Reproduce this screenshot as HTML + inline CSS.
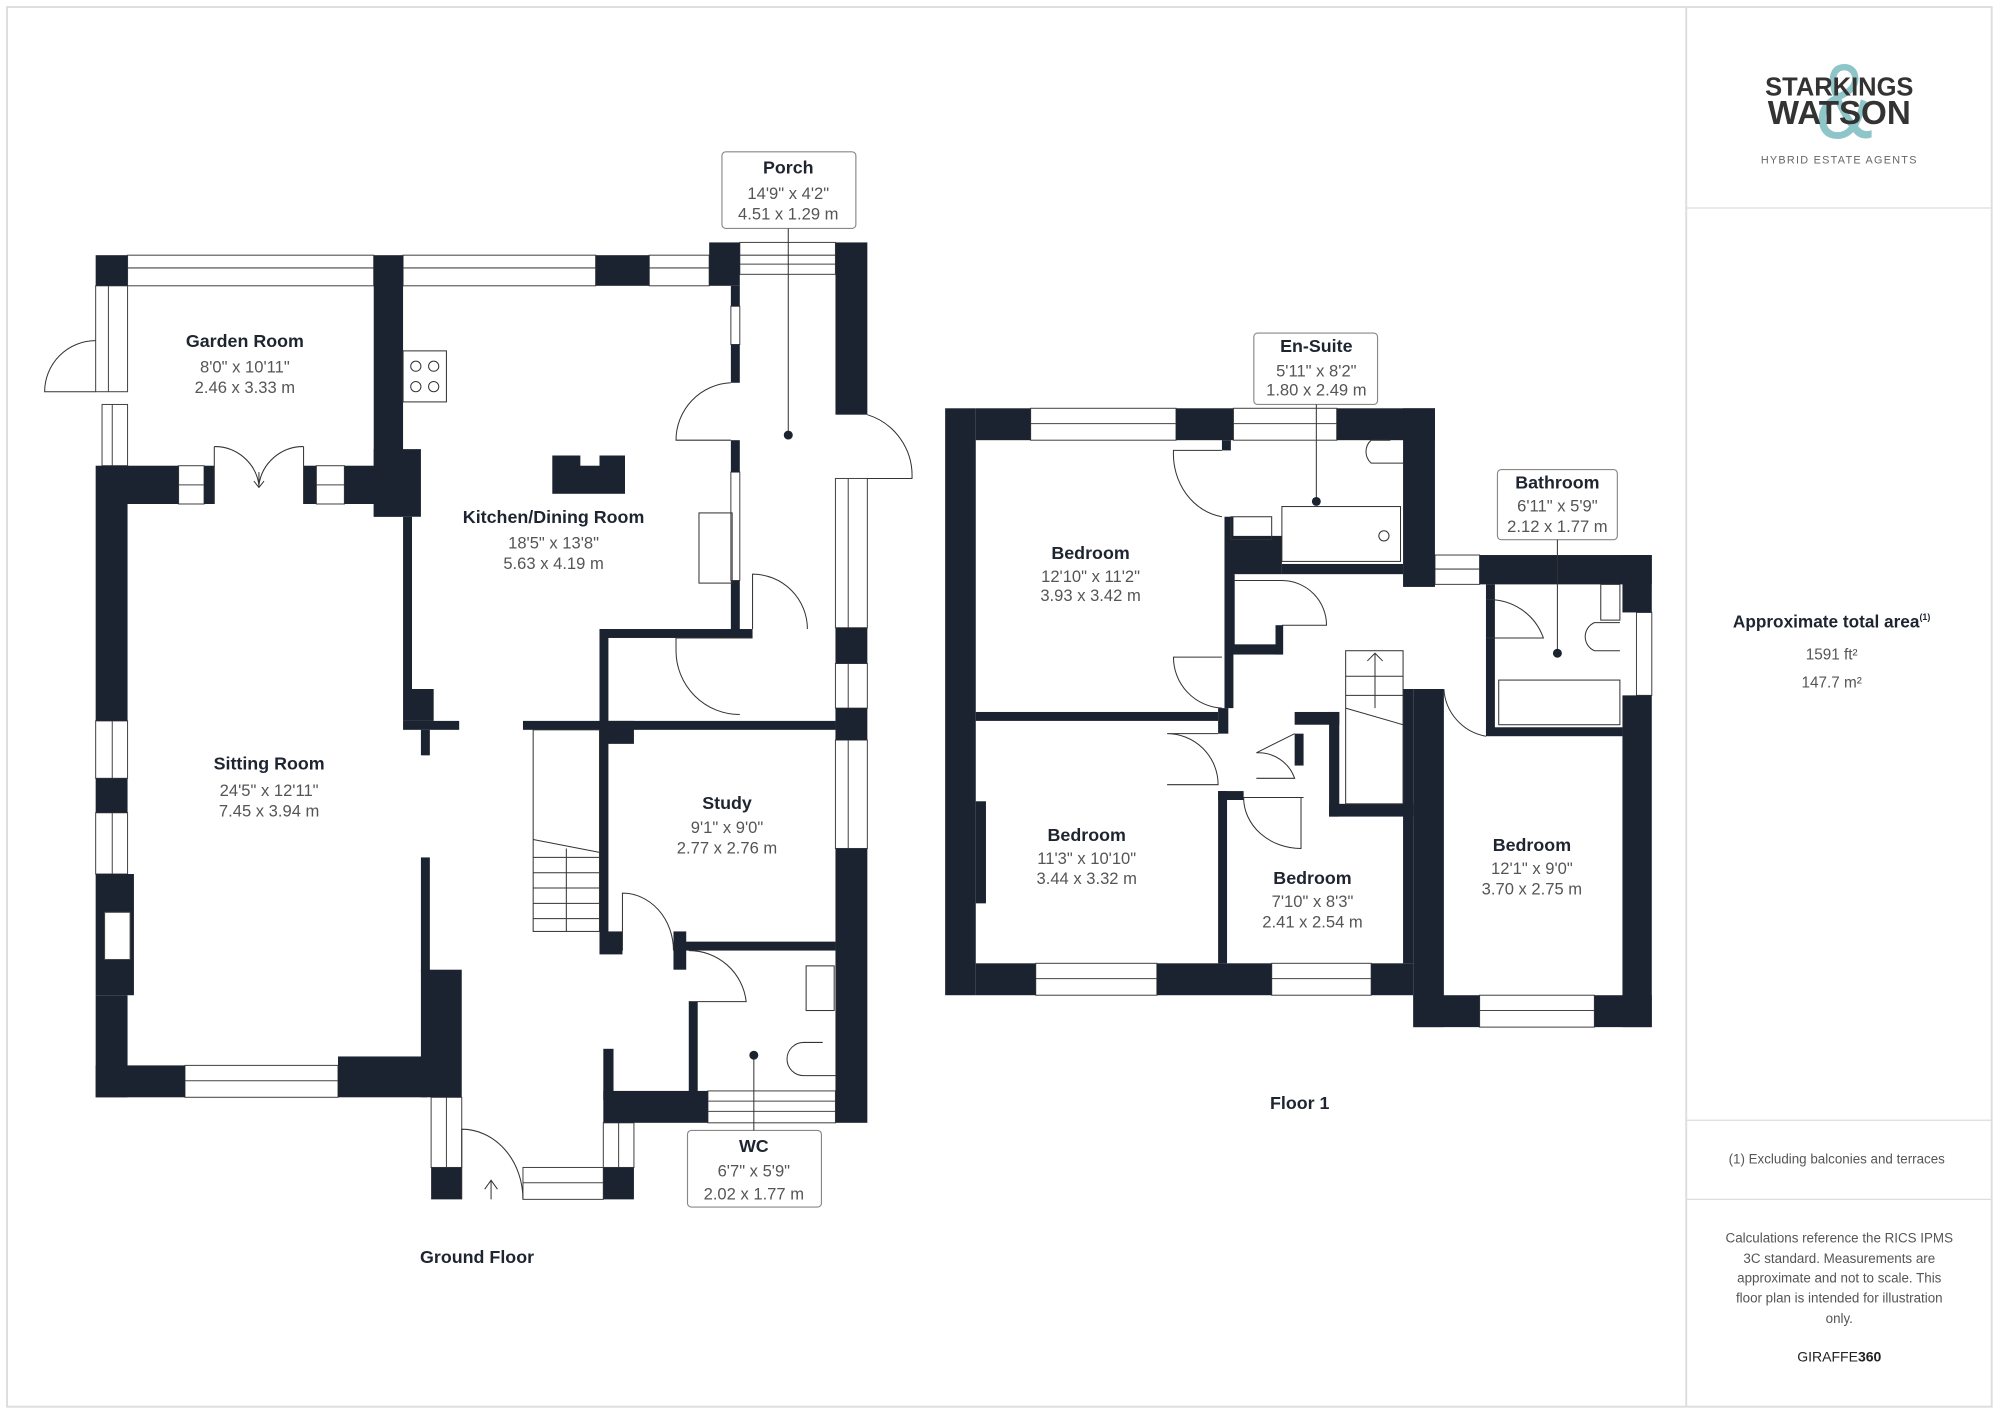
<!DOCTYPE html>
<html><head><meta charset="utf-8"><style>
html,body{margin:0;padding:0;background:#fff;}
svg{display:block;}
text{font-family:"Liberation Sans",sans-serif;}
.n{font-size:14px;font-weight:bold;fill:#1e2430;text-anchor:middle;}
.d{font-size:13px;fill:#555;text-anchor:middle;}
.s{fill:#555;text-anchor:middle;}
</style></head><body>
<svg width="2000" height="1415" viewBox="0 0 1568 1109" preserveAspectRatio="none" xmlns="http://www.w3.org/2000/svg">
<rect x="0" y="0" width="1568" height="1109" fill="#fff"/>
<rect x="5.5" y="5.5" width="1556" height="1097" fill="none" stroke="#ddd" stroke-width="1.5"/>
<line x1="1322" y1="5" x2="1322" y2="1103" stroke="#ddd" stroke-width="1.5"/>
<line x1="1322" y1="163" x2="1562" y2="163" stroke="#ddd"/>
<line x1="1322" y1="878" x2="1562" y2="878" stroke="#ddd"/>
<line x1="1322" y1="940" x2="1562" y2="940" stroke="#ddd"/>

<!-- logo -->
<text x="1446" y="108" style="font-size:84px" fill="#8ec5c8" text-anchor="middle" transform="translate(1446 0) scale(0.8 1) translate(-1446 0)">&amp;</text>
<text x="1442" y="75" style="font-size:20px" fill="#333" text-anchor="middle" font-weight="bold">STARKINGS</text>
<text x="1442" y="97" style="font-size:26px" fill="#333" text-anchor="middle" font-weight="bold">WATSON</text>
<text x="1442" y="128" style="font-size:8.5px" fill="#666" text-anchor="middle" letter-spacing="1">HYBRID ESTATE AGENTS</text>

<text x="1436" y="492" style="font-size:13.5px" font-weight="bold" fill="#1e2430" text-anchor="middle">Approximate total area<tspan style="font-size:7px" dy="-6">(1)</tspan></text>
<text x="1436" y="517" class="s" style="font-size:12px">1591 ft²</text>
<text x="1436" y="539" class="s" style="font-size:12px">147.7 m²</text>
<text x="1440" y="912" class="s" style="font-size:10.5px">(1) Excluding balconies and terraces</text>
<text x="1442" y="974" class="s" style="font-size:10.5px">Calculations reference the RICS IPMS</text>
<text x="1442" y="990" class="s" style="font-size:10.5px">3C standard. Measurements are</text>
<text x="1442" y="1005" class="s" style="font-size:10.5px">approximate and not to scale. This</text>
<text x="1442" y="1021" class="s" style="font-size:10.5px">floor plan is intended for illustration</text>
<text x="1442" y="1037" class="s" style="font-size:10.5px">only.</text>
<text x="1442" y="1067" style="font-size:11px" fill="#222" text-anchor="middle">GIRAFFE<tspan font-weight="bold">360</tspan></text>

<!-- windows -->
<g fill="#fff" stroke="#444" stroke-width="0.8">
<rect x="100" y="200" width="193" height="24"/><line x1="100" y1="210" x2="293" y2="210"/>
<rect x="316" y="200" width="151" height="24"/><line x1="316" y1="210" x2="467" y2="210"/>
<rect x="509" y="200" width="47" height="24"/><line x1="509" y1="210" x2="556" y2="210"/>
<rect x="580" y="190" width="75" height="25"/><line x1="580" y1="200" x2="655" y2="200"/><line x1="580" y1="207" x2="655" y2="207"/>
<rect x="655" y="375" width="25" height="117"/><line x1="665" y1="375" x2="665" y2="492"/>
<rect x="655" y="520" width="25" height="35"/><line x1="665" y1="520" x2="665" y2="555"/>
<rect x="655" y="580" width="25" height="85"/><line x1="665" y1="580" x2="665" y2="665"/>
<rect x="75" y="224" width="25" height="83"/><line x1="85" y1="224" x2="85" y2="307"/>
<rect x="80" y="317" width="20" height="48"/><line x1="88" y1="317" x2="88" y2="365"/>
<rect x="140" y="365" width="20" height="30"/><line x1="140" y1="380" x2="160" y2="380"/>
<rect x="248" y="365" width="22" height="30"/><line x1="248" y1="380" x2="270" y2="380"/>
<rect x="75" y="565" width="25" height="45"/><line x1="88" y1="565" x2="88" y2="610"/>
<rect x="75" y="637" width="25" height="48"/><line x1="88" y1="637" x2="88" y2="685"/>
<rect x="145" y="835" width="120" height="25"/><line x1="145" y1="847" x2="265" y2="847"/>
<rect x="338" y="860" width="24" height="55"/><line x1="350" y1="860" x2="350" y2="915"/>
<rect x="410" y="915" width="63" height="25"/><line x1="410" y1="927" x2="473" y2="927"/>
<rect x="473" y="880" width="24" height="35"/><line x1="485" y1="880" x2="485" y2="915"/>
<rect x="555" y="855" width="100" height="25"/><line x1="555" y1="863" x2="655" y2="863"/><line x1="555" y1="871" x2="655" y2="871"/>
<rect x="573" y="240" width="7" height="30"/><rect x="573" y="370" width="7" height="85"/>
<rect x="808" y="320" width="114" height="25"/><line x1="808" y1="332" x2="922" y2="332"/>
<rect x="967" y="320" width="81" height="25"/><line x1="967" y1="332" x2="1048" y2="332"/>
<rect x="1125" y="435" width="35" height="23"/><line x1="1125" y1="446" x2="1160" y2="446"/>
<rect x="1283" y="480" width="12" height="65"/>
<rect x="812" y="755" width="95" height="25"/><line x1="812" y1="767" x2="907" y2="767"/>
<rect x="997" y="755" width="78" height="25"/><line x1="997" y1="767" x2="1075" y2="767"/>
<rect x="1160" y="780" width="90" height="25"/><line x1="1160" y1="792" x2="1250" y2="792"/>
</g>

<!-- walls -->
<g fill="#1b2330">
<rect x="75" y="200" width="25" height="24"/>
<rect x="293" y="200" width="23" height="205"/>
<rect x="293" y="352" width="37" height="53"/>
<rect x="467" y="200" width="42" height="24"/>
<rect x="556" y="190" width="24" height="34"/>
<rect x="573" y="224" width="7" height="16"/>
<rect x="573" y="270" width="7" height="30"/>
<rect x="573" y="345" width="7" height="25"/>
<rect x="573" y="455" width="7" height="40"/>
<rect x="655" y="190" width="25" height="135"/>
<rect x="655" y="492" width="25" height="28"/>
<rect x="655" y="555" width="25" height="25"/>
<rect x="655" y="665" width="25" height="215"/>
<rect x="470" y="493" width="120" height="7"/>
<rect x="470" y="493" width="7" height="252"/>
<rect x="410" y="565" width="245" height="7"/>
<rect x="470" y="565" width="27" height="18"/>
<rect x="75" y="365" width="65" height="30"/>
<rect x="160" y="365" width="8" height="30"/>
<rect x="238" y="365" width="10" height="30"/>
<rect x="270" y="365" width="46" height="30"/>
<rect x="75" y="395" width="25" height="170"/>
<rect x="75" y="610" width="25" height="27"/>
<rect x="75" y="685" width="30" height="95"/>
<rect x="75" y="780" width="25" height="80"/>
<rect x="75" y="835" width="70" height="25"/>
<rect x="265" y="828" width="70" height="32"/>
<rect x="330" y="760" width="32" height="100"/>
<rect x="330" y="672" width="7" height="90"/>
<rect x="316" y="405" width="7" height="135"/>
<rect x="316" y="540" width="24" height="25"/>
<rect x="316" y="565" width="44" height="7"/>
<rect x="330" y="572" width="7" height="20"/>
<rect x="338" y="915" width="24" height="25"/>
<rect x="473" y="915" width="24" height="25"/>
<rect x="473" y="855" width="82" height="25"/>
<rect x="473" y="822" width="8" height="40"/>
<rect x="540" y="785" width="7" height="75"/>
<rect x="528" y="738" width="127" height="7"/>
<rect x="528" y="730" width="10" height="30"/>
<rect x="470" y="730" width="18" height="18"/>
<rect x="741" y="320" width="24" height="460"/>
<rect x="765" y="320" width="43" height="25"/>
<rect x="922" y="320" width="45" height="25"/>
<rect x="1048" y="320" width="77" height="25"/>
<rect x="1100" y="320" width="25" height="140"/>
<rect x="958" y="345" width="7" height="8"/>
<rect x="960" y="405" width="7" height="150"/>
<rect x="960" y="420" width="45" height="30"/>
<rect x="1005" y="442" width="95" height="8"/>
<rect x="1160" y="435" width="135" height="23"/>
<rect x="1272" y="435" width="23" height="45"/>
<rect x="1272" y="545" width="23" height="260"/>
<rect x="1165" y="458" width="7" height="117"/>
<rect x="1165" y="570" width="107" height="7"/>
<rect x="1108" y="540" width="24" height="265"/>
<rect x="765" y="755" width="47" height="25"/>
<rect x="907" y="755" width="90" height="25"/>
<rect x="1075" y="755" width="33" height="25"/>
<rect x="1108" y="780" width="52" height="25"/>
<rect x="1250" y="780" width="45" height="25"/>
<rect x="765" y="558" width="190" height="7"/>
<rect x="955" y="555" width="8" height="20"/>
<rect x="955" y="620" width="7" height="135"/>
<rect x="955" y="620" width="20" height="7"/>
<rect x="1015" y="558" width="35" height="10"/>
<rect x="1042" y="558" width="8" height="82"/>
<rect x="1042" y="630" width="66" height="10"/>
<rect x="1100" y="540" width="8" height="215"/>
<rect x="960" y="450" width="8" height="62"/>
<rect x="960" y="505" width="45" height="8"/>
<rect x="1000" y="490" width="6" height="23"/>
<rect x="1015" y="575" width="7" height="25"/>
<rect x="433" y="357" width="57" height="30"/>
<rect x="765" y="628" width="8" height="80"/>
</g>
<rect x="455" y="357" width="15" height="8" fill="#fff"/>
<rect x="82" y="715" width="20" height="37" fill="#fff" stroke="#444" stroke-width="0.8"/>

<!-- doors / fixtures -->
<g fill="none" stroke="#333" stroke-width="0.8">
<path d="M75 307 L35 307 A40 40 0 0 1 75 267"/>
<path d="M680 325 A50 50 0 0 1 715 375 L680 375"/>
<path d="M573 300 A45 45 0 0 0 530 345 L573 345"/>
<path d="M168 350 A35 35 0 0 1 203 380 M238 350 A35 35 0 0 0 203 380 M168 350 L168 395 M238 350 L238 395"/>
<path d="M590 493 L590 450 A43 43 0 0 1 633 493"/>
<path d="M590 500 L530 500 L530 510 A50 50 0 0 0 580 560"/>
<path d="M362 940 L362 885 A48 55 0 0 1 410 940"/>
<path d="M488 745 L488 700 A40 45 0 0 1 528 745"/>
<path d="M540 785 L585 785 A45 45 0 0 0 540 745"/>
<rect x="316" y="275" width="34" height="40"/>
<circle cx="326" cy="287" r="4"/><circle cx="340" cy="287" r="4"/><circle cx="326" cy="303" r="4"/><circle cx="340" cy="303" r="4"/>
<rect x="548" y="402" width="26" height="55"/>
<rect x="632" y="757" width="22" height="35"/>
<path d="M645 817 L630 817 A13 13 0 0 0 630 843 L655 843"/>
<rect x="418" y="572" width="52" height="158"/>
<path d="M418 658 L470 668 M418 672 H470 M418 684 H470 M418 696 H470 M418 708 H470 M418 720 H470 M444 665 V730"/>
<path d="M385 925 V940 M380 932 L385 925 L390 932"/>
<path d="M203 370 L203 382 M199 377 L203 382 L207 377"/>
<path d="M958 353 L920 353 A45 50 0 0 0 958 405"/>
<path d="M968 455 L1005 455 A35 35 0 0 1 1040 490 L1005 490"/>
<path d="M958 515 L920 515 A40 40 0 0 0 958 555"/>
<path d="M955 575 L915 575 A40 40 0 0 1 955 615 L915 615"/>
<path d="M1015 575 L985 590 A30 30 0 0 1 1015 610 L985 610"/>
<path d="M1022 625 L975 625 A45 40 0 0 0 1020 665 L1020 625"/>
<path d="M1165 470 A45 45 0 0 1 1210 500 L1165 500"/>
<path d="M1132 540 A40 40 0 0 0 1165 577"/>
<rect x="1005" y="397" width="93" height="43"/>
<circle cx="1085" cy="420" r="4"/>
<rect x="965" y="405" width="32" height="18"/>
<path d="M1090 345 L1075 345 A12 12 0 0 0 1075 363 L1100 363"/>
<rect x="1175" y="533" width="95" height="35"/>
<rect x="1255" y="458" width="15" height="28"/>
<path d="M1270 488 L1250 488 A12 12 0 0 0 1250 510 L1270 510"/>
<rect x="1055" y="510" width="45" height="120"/>
<path d="M1055 530 H1100 M1055 545 H1100 M1055 555 L1100 568 M1078 512 V555 M1072 518 L1078 512 L1084 518"/>
</g>

<!-- labels -->
<g fill="#fff" stroke="#888" stroke-width="0.9">
<rect x="566" y="119" width="105" height="60" rx="3"/>
<rect x="539" y="886" width="105" height="60" rx="3"/>
<rect x="983" y="261" width="97" height="56" rx="3"/>
<rect x="1174" y="368" width="94" height="55" rx="3"/>
</g>
<g stroke="#333" stroke-width="0.8">
<line x1="618" y1="179" x2="618" y2="341"/>
<line x1="591" y1="827" x2="591" y2="886"/>
<line x1="1032" y1="317" x2="1032" y2="393"/>
<line x1="1221" y1="423" x2="1221" y2="512"/>
</g>
<g fill="#1b2330"><circle cx="618" cy="341" r="3.5"/><circle cx="591" cy="827" r="3.5"/><circle cx="1032" cy="393" r="3.5"/><circle cx="1221" cy="512" r="3.5"/></g>

<text x="618" y="136" class="n">Porch</text><text x="618" y="156" class="d">14'9" x 4'2"</text><text x="618" y="172" class="d">4.51 x 1.29 m</text>
<text x="192" y="272" class="n">Garden Room</text><text x="192" y="292" class="d">8'0" x 10'11"</text><text x="192" y="308" class="d">2.46 x 3.33 m</text>
<text x="434" y="410" class="n">Kitchen/Dining Room</text><text x="434" y="430" class="d">18'5" x 13'8"</text><text x="434" y="446" class="d">5.63 x 4.19 m</text>
<text x="211" y="603" class="n">Sitting Room</text><text x="211" y="624" class="d">24'5" x 12'11"</text><text x="211" y="640" class="d">7.45 x 3.94 m</text>
<text x="570" y="634" class="n">Study</text><text x="570" y="653" class="d">9'1" x 9'0"</text><text x="570" y="669" class="d">2.77 x 2.76 m</text>
<text x="591" y="903" class="n">WC</text><text x="591" y="922" class="d">6'7" x 5'9"</text><text x="591" y="940" class="d">2.02 x 1.77 m</text>
<text x="374" y="990" class="n">Ground Floor</text>
<text x="1032" y="276" class="n">En-Suite</text><text x="1032" y="295" class="d">5'11" x 8'2"</text><text x="1032" y="310" class="d">1.80 x 2.49 m</text>
<text x="1221" y="383" class="n">Bathroom</text><text x="1221" y="401" class="d">6'11" x 5'9"</text><text x="1221" y="417" class="d">2.12 x 1.77 m</text>
<text x="855" y="438" class="n">Bedroom</text><text x="855" y="456" class="d">12'10" x 11'2"</text><text x="855" y="471" class="d">3.93 x 3.42 m</text>
<text x="852" y="659" class="n">Bedroom</text><text x="852" y="677" class="d">11'3" x 10'10"</text><text x="852" y="693" class="d">3.44 x 3.32 m</text>
<text x="1029" y="693" class="n">Bedroom</text><text x="1029" y="711" class="d">7'10" x 8'3"</text><text x="1029" y="727" class="d">2.41 x 2.54 m</text>
<text x="1201" y="667" class="n">Bedroom</text><text x="1201" y="685" class="d">12'1" x 9'0"</text><text x="1201" y="701" class="d">3.70 x 2.75 m</text>
<text x="1019" y="869" class="n">Floor 1</text>
</svg>
</body></html>
